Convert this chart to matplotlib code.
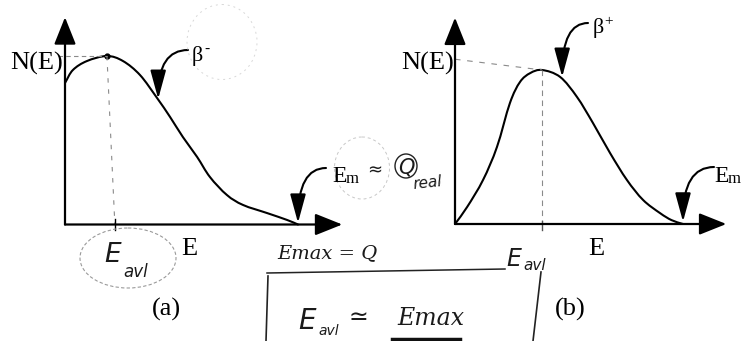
import matplotlib
matplotlib.use("Agg")
import matplotlib.pyplot as plt
import numpy as np
from matplotlib.patches import Ellipse, PathPatch
from matplotlib.path import Path

plt.rcParams["font.family"] = ["Liberation Serif", "DejaVu Serif"]
plt.rcParams["mathtext.fontset"] = "stix"

# Beta-minus spectrum, energy in units of E_max, N normalised to the peak
E_minus = [0.0, 0.034, 0.094, 0.18, 0.249, 0.322, 0.395, 0.451, 0.506,
           0.567, 0.622, 0.695, 0.764, 0.867, 0.953, 1.0]
N_minus = [0.84, 0.917, 0.97, 1.0, 0.97, 0.887, 0.751, 0.638, 0.519,
           0.401, 0.282, 0.175, 0.116, 0.068, 0.027, 0.0]
E_avg_minus = 0.18

# Beta-plus spectrum
E_plus = [0.0, 0.053, 0.123, 0.184, 0.241, 0.285, 0.33, 0.382, 0.461,
          0.535, 0.605, 0.68, 0.754, 0.825, 0.899, 0.95, 1.0]
N_plus = [0.0, 0.11, 0.286, 0.5, 0.786, 0.922, 0.98, 1.0, 0.955,
          0.825, 0.656, 0.461, 0.286, 0.156, 0.071, 0.025, 0.0]
E_avg_plus = 0.382

W, H = 745, 341
fig = plt.figure(figsize=(W / 100, H / 100), dpi=100)

# overlay in pixel units for labels and hand annotations
ov = fig.add_axes([0, 0, 1, 1], zorder=3)
ov.set_xlim(0, W)
ov.set_ylim(H, 0)
ov.axis("off")
ov.patch.set_alpha(0)


def make_panel(ox, oy, sx, sy, xmax, ymax):
    ax = fig.add_axes([ox / W, (H - oy) / H, xmax * sx / W, ymax * sy / H], zorder=2)
    ax.set_xlim(0, xmax)
    ax.set_ylim(0, ymax)
    ax.axis("off")
    ax.patch.set_alpha(0)
    return ax


def smooth_curve(ax, xs, ys):
    """Draw a smooth Catmull-Rom style Bezier through the given points."""
    p = np.column_stack([xs, ys]).astype(float)
    ext = np.vstack([2 * p[0] - p[1], p, 2 * p[-1] - p[-2]])
    verts = [p[0]]
    codes = [Path.MOVETO]
    for i in range(1, len(ext) - 2):
        c1 = ext[i] + (ext[i + 1] - ext[i - 1]) / 6.0
        c2 = ext[i + 1] - (ext[i + 2] - ext[i]) / 6.0
        verts += [c1, c2, ext[i + 1]]
        codes += [Path.CURVE4] * 3
    ax.add_patch(PathPatch(Path(verts, codes), fill=False, ec="k", lw=1.5,
                           capstyle="round", joinstyle="round", clip_on=False))


def draw_axes(ax, xtip, ytip):
    style = "-|>,head_length=1.05,head_width=0.42"
    for tip in [(xtip, 0), (0, ytip)]:
        ax.annotate("", xy=tip, xytext=(0, 0), xycoords="data",
                    arrowprops=dict(arrowstyle=style, lw=1.6, color="k",
                                    shrinkA=0, shrinkB=0, mutation_scale=16),
                    annotation_clip=False)


def pointer(ax, tip, start_px):
    ax.annotate("", xy=tip, xycoords="data", xytext=start_px, textcoords=ov.transData,
                arrowprops=dict(arrowstyle="-|>,head_length=1.1,head_width=0.3",
                                lw=1.5, color="k", shrinkA=0, shrinkB=0,
                                mutation_scale=16,
                                connectionstyle="angle3,angleA=0,angleB=90"),
                annotation_clip=False)


# ---- panel (a): beta minus ----
axa = make_panel(65, 224.5, 233, 168.5, 1.2, 1.3)
draw_axes(axa, 1.19, 1.23)
smooth_curve(axa, E_minus, N_minus)
axa.plot([E_avg_minus], [1.0], "o", color="k", ms=3.5, clip_on=False)
axa.plot([E_avg_minus, E_avg_minus + 0.034], [1.0, 0], color="#8a8a8a", lw=0.8,
         ls=(0, (4, 6)), clip_on=False)
axa.plot([-0.03, E_avg_minus], [1.0, 1.0], color="#8a8a8a", lw=0.8,
         ls=(0, (4, 3)), clip_on=False)
axa.plot([E_avg_minus + 0.034] * 2, [-0.03, 0.03], color="k", lw=1.0, clip_on=False)
pointer(axa, (0.40, 0.745), (188, 50))
pointer(axa, (1.0, 0.01), (326, 168))

# ---- panel (b): beta plus ----
axb = make_panel(455, 224, 228, 154, 1.2, 1.36)
draw_axes(axb, 1.19, 1.34)
smooth_curve(axb, E_plus, N_plus)
axb.plot([E_avg_plus, E_avg_plus], [1.0, 0], color="#8a8a8a", lw=0.8,
         ls=(0, (5, 4)), clip_on=False)
axb.plot([0.0, E_avg_plus], [1.07, 1.0], color="#8a8a8a", lw=0.8,
         ls=(0, (5, 6)), clip_on=False)
axb.plot([E_avg_plus] * 2, [-0.04, 0.02], color="#555555", lw=1.0, clip_on=False)
pointer(axb, (0.47, 0.955), (588, 23))
pointer(axb, (1.0, 0.015), (714, 167))

# ---- printed labels ----
fs = 19
ov.text(37, 70, "N(E)", fontsize=fs, ha="center", va="baseline")
ov.text(428, 70, "N(E)", fontsize=fs, ha="center", va="baseline")
ov.text(189, 255, "E", fontsize=fs, ha="center", va="baseline")
ov.text(596, 255, "E", fontsize=fs, ha="center", va="baseline")
ov.text(166, 316, "(a)", fontsize=fs, ha="center", va="baseline")
ov.text(570, 316, "(b)", fontsize=fs, ha="center", va="baseline")
ov.text(197, 61, "β", fontsize=16, ha="center", va="baseline")
ov.text(207, 53, "-", fontsize=11, ha="center", va="baseline")
ov.text(598, 33, "β", fontsize=16, ha="center", va="baseline")
ov.text(609, 25, "+", fontsize=11, ha="center", va="baseline")
ov.text(332, 182, "E", fontsize=17, ha="left", va="baseline")
ov.text(346, 183, "m", fontsize=12, ha="left", va="baseline")
ov.text(714, 182, "E", fontsize=17, ha="left", va="baseline")
ov.text(728, 183, "m", fontsize=12, ha="left", va="baseline")

# ---- handwritten notes ----
hw = dict(color="#1a1a1a", fontstyle="italic", family=["DejaVu Sans"])
ov.text(104, 262, "E", fontsize=19, ha="left", va="baseline", **hw)
ov.text(123, 277, "avl", fontsize=12, ha="left", va="baseline", **hw)
ov.add_patch(Ellipse((128, 258), 96, 60, fill=False, ec="#9a9a9a", lw=0.8,
                     ls=(0, (3, 2))))
ov.text(277, 258, "Emax = Q", fontsize=14, ha="left", va="baseline",
        **{**hw, "family": ["DejaVu Serif"]})
ov.text(375, 175, "≈", fontsize=13, ha="center", va="baseline", **hw)
ov.text(406, 174, "Q", fontsize=15, ha="center", va="baseline", **hw)
ov.add_patch(Ellipse((406, 166), 22, 24, fill=False, ec="#222222", lw=1.0))
ov.text(412, 189, "real", fontsize=11, ha="left", va="baseline", rotation=6, **hw)
ov.add_patch(Ellipse((362, 168), 55, 62, fill=False, ec="#c8c8c8", lw=0.7,
                     ls=(0, (3, 3))))
ov.add_patch(Ellipse((222, 42), 70, 75, fill=False, ec="#d8d8d8", lw=0.7,
                     ls=(0, (2, 4))))
ov.text(506, 266, "E", fontsize=17, ha="left", va="baseline", **hw)
ov.text(523, 270, "avl", fontsize=11, ha="left", va="baseline", **hw)

# boxed relation
ov.plot([267, 505], [273, 269], color="#222222", lw=1.1)
ov.plot([268, 266], [276, 341], color="#222222", lw=1.2)
ov.plot([541, 533], [272, 341], color="#222222", lw=1.2)
ov.text(298, 329, "E", fontsize=20, ha="left", va="baseline", **hw)
ov.text(318, 335, "avl", fontsize=10, ha="left", va="baseline", **hw)
ov.text(358, 324, "≃", fontsize=17, ha="center", va="baseline", **hw)
ov.text(397, 325, "Emax", fontsize=17, ha="left", va="baseline",
        **{**hw, "family": ["DejaVu Serif"]})
ov.plot([392, 460], [339, 339], color="#111111", lw=2.5)

fig.savefig("out.png", dpi=100, facecolor="white")
